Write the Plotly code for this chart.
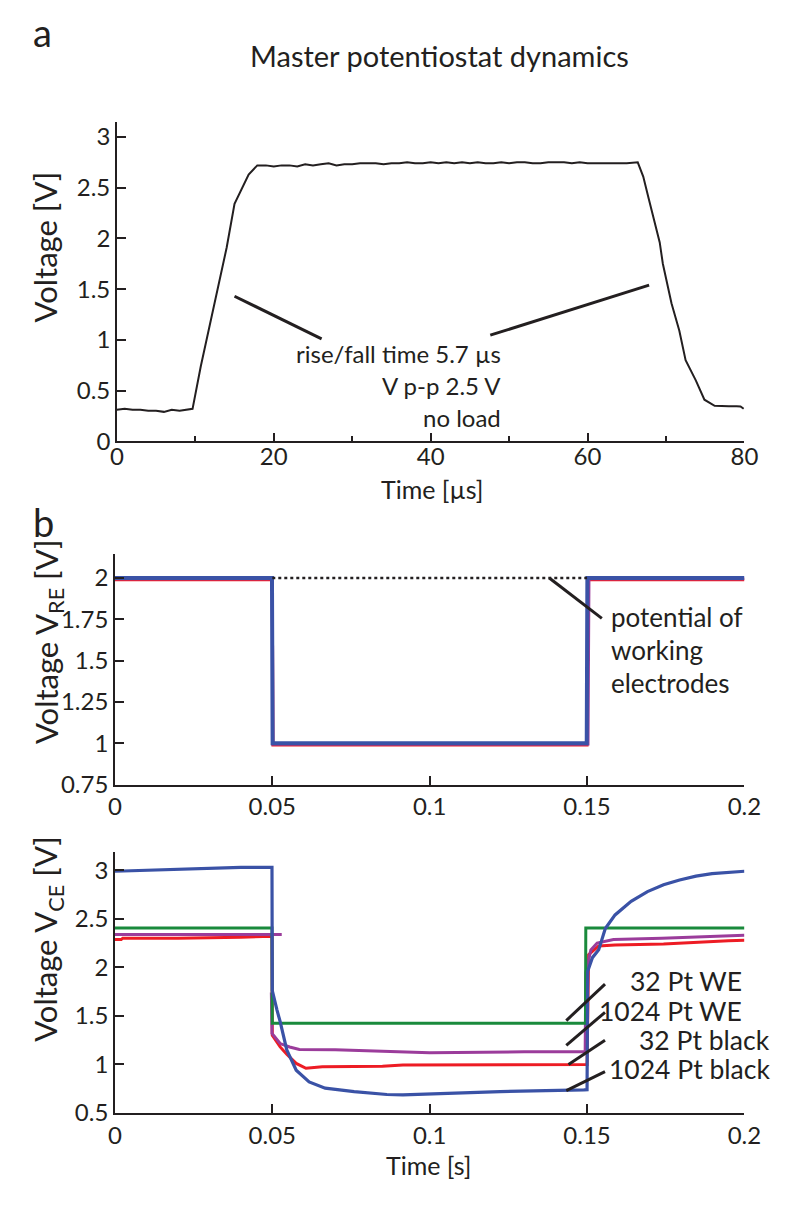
import plotly.graph_objects as go

# ---------------- data ----------------
# Panel a: master potentiostat step response (time in µs, voltage in V)
a_time = [0, 1, 2, 3, 4, 5, 6, 7, 8, 9, 9.65, 10.7, 11.5, 12.5, 13.3, 14.0, 15.0, 15.8,
          16.8, 17.9, 19, 20, 21, 22, 23, 24, 25, 26, 27, 28, 29, 30, 31, 32, 33, 34, 35,
          36, 37, 38, 39, 40, 41, 42, 43, 44, 45, 46, 47, 48, 49, 50, 51, 52, 53, 54, 55,
          56, 57, 58, 59, 60, 61, 62, 63, 64, 65, 66.4, 67.1, 67.8, 68.4, 69.2, 69.6,
          70.7, 71.7, 72.5, 73.8, 74.9, 76.2, 77, 78, 79, 79.5, 79.9]
a_volt = [0.31, 0.32, 0.31, 0.31, 0.30, 0.30, 0.29, 0.31, 0.30, 0.31, 0.32, 0.74, 1.02, 1.36,
          1.66, 1.91, 2.34, 2.47, 2.63, 2.72, 2.72, 2.71, 2.72, 2.72, 2.71, 2.73, 2.72, 2.73,
          2.74, 2.72, 2.73, 2.73, 2.74, 2.74, 2.74, 2.73, 2.74, 2.74, 2.75, 2.74, 2.74, 2.75,
          2.74, 2.75, 2.74, 2.75, 2.74, 2.75, 2.74, 2.74, 2.75, 2.74, 2.75, 2.75, 2.74, 2.74,
          2.75, 2.75, 2.75, 2.74, 2.75, 2.74, 2.74, 2.74, 2.74, 2.74, 2.74, 2.75, 2.61, 2.39,
          2.21, 1.96, 1.75, 1.36, 1.09, 0.80, 0.60, 0.41, 0.35, 0.345, 0.345, 0.345, 0.343, 0.32]

# Panel b (top): reference electrode potential V_RE (time in s)
re_time_blue = [0, 0.0499, 0.0501, 0.1499, 0.1501, 0.2]
re_blue = [2.0, 2.0, 1.0, 1.0, 2.0, 2.0]
re_time_red = [0, 0.0500, 0.0502, 0.1500, 0.1502, 0.2]
re_red = [1.99, 1.99, 0.99, 0.99, 1.99, 1.99]
re_time_purple = [0, 0.0500, 0.0502, 0.1503, 0.1506, 0.2]
re_purple = [1.995, 1.995, 0.995, 0.995, 1.995, 1.995]
we_time = [0.05, 0.15]
we_potential = [2.0, 2.0]

# Panel b (bottom): counter electrode potential V_CE
ce_time_blue = [0, 0.01, 0.02, 0.03, 0.04, 0.0499, 0.0500, 0.0515, 0.0525, 0.0546, 0.0576,
                0.0617, 0.0668, 0.076, 0.0864, 0.0915, 0.1018, 0.1224, 0.149, 0.1500, 0.1502,
                0.1517, 0.1537, 0.1558, 0.1589, 0.164, 0.1692, 0.1743, 0.1794, 0.1846,
                0.1897, 0.1949, 0.2]
ce_blue = [2.99, 3.0, 3.01, 3.02, 3.03, 3.03, 1.76, 1.56, 1.44, 1.15, 0.94, 0.82, 0.755,
           0.72, 0.69, 0.687, 0.70, 0.72, 0.738, 0.74, 1.96, 2.10, 2.18, 2.40, 2.54, 2.68,
           2.78, 2.85, 2.90, 2.94, 2.966, 2.976, 2.99]
ce_time_red = [0, 0.002, 0.0025, 0.02, 0.04, 0.0499, 0.0500, 0.0504, 0.0525, 0.0546, 0.0576,
               0.0607, 0.0659, 0.0761, 0.085, 0.0915, 0.11, 0.125, 0.1495, 0.1500, 0.1505,
               0.152, 0.1537, 0.1589, 0.1743, 0.1949, 0.2]
ce_red = [2.286, 2.286, 2.30, 2.30, 2.31, 2.32, 1.30, 1.28, 1.18, 1.105, 1.01, 0.96, 0.976,
          0.978, 0.98, 0.993, 0.993, 1.0, 1.0, 1.0, 2.13, 2.17, 2.22, 2.23, 2.24, 2.275, 2.28]
ce_time_purple = [0, 0.053, None, 0.0497, 0.0499, 0.0525, 0.0555, 0.0586, 0.07, 0.09, 0.1,
                  0.13, 0.1494, 0.1496, 0.1512, 0.1532, 0.1584, 0.1738, 0.1943, 0.2]
ce_purple = [2.337, 2.337, None, 1.74, 1.32, 1.215, 1.18, 1.153, 1.15, 1.13, 1.12, 1.13,
             1.13, 1.946, 2.18, 2.25, 2.286, 2.30, 2.326, 2.33]
ce_time_green = [0, 0.0499, 0.0500, 0.1495, 0.1496, 0.2]
ce_green = [2.405, 2.405, 1.425, 1.425, 2.405, 2.405]

series_names = ["32 Pt WE", "1024 Pt WE", "32 Pt black", "1024 Pt black"]

a_yticks = [0, 0.5, 1, 1.5, 2, 2.5, 3]
a_yticktext = ["0", "0.5", "1", "1.5", "2", "2.5", "3"]
re_yticks = [0.75, 1, 1.25, 1.5, 1.75, 2]
re_yticktext = ["0.75", "1", "1.25", "1.5", "1.75", "2"]
ce_yticks = [0.5, 1, 1.5, 2, 2.5, 3]
ce_yticktext = ["0.5", "1", "1.5", "2", "2.5", "3"]
b_xticks = [0, 0.05, 0.1, 0.15, 0.2]
b_xticktext = ["0", "0.05", "0.1", "0.15", "0.2"]

# ---------------- styling ----------------
W, H = 800, 1206
FONT = "Lato"
INK = "#231f20"
BLUE = "#3a52a6"
RED = "#ed1c24"
PURPLE = "#9b3c9b"
GREEN = "#1a8a3c"
TICK_SIZE = 24


def X(px):
    return px / W


def Y(py):
    return 1 - py / H


fig = go.Figure()

# Panel a
fig.add_trace(go.Scatter(x=a_time, y=a_volt, mode="lines", line=dict(color=INK, width=2),
                         xaxis="x", yaxis="y", showlegend=False))

# Panel b top
fig.add_trace(go.Scatter(x=re_time_red, y=re_red, mode="lines", line=dict(color=RED, width=3),
                         xaxis="x2", yaxis="y2", showlegend=False))
fig.add_trace(go.Scatter(x=re_time_purple, y=re_purple, mode="lines",
                         line=dict(color=PURPLE, width=3), xaxis="x2", yaxis="y2", showlegend=False))
fig.add_trace(go.Scatter(x=re_time_blue, y=re_blue, mode="lines", line=dict(color=BLUE, width=4),
                         xaxis="x2", yaxis="y2", showlegend=False))
fig.add_trace(go.Scatter(x=we_time, y=we_potential, mode="lines",
                         line=dict(color=INK, width=2.5, dash="dot"), xaxis="x2", yaxis="y2",
                         showlegend=False))

# Panel b bottom
fig.add_trace(go.Scatter(x=ce_time_red, y=ce_red, mode="lines", line=dict(color=RED, width=3),
                         xaxis="x3", yaxis="y3", name=series_names[2], showlegend=False))
fig.add_trace(go.Scatter(x=ce_time_purple, y=ce_purple, mode="lines",
                         line=dict(color=PURPLE, width=3), xaxis="x3", yaxis="y3",
                         name=series_names[1], showlegend=False))
fig.add_trace(go.Scatter(x=ce_time_green, y=ce_green, mode="lines",
                         line=dict(color=GREEN, width=3), xaxis="x3", yaxis="y3",
                         name=series_names[0], showlegend=False))
fig.add_trace(go.Scatter(x=ce_time_blue, y=ce_blue, mode="lines", line=dict(color=BLUE, width=3.2),
                         xaxis="x3", yaxis="y3", name=series_names[3], showlegend=False))

axis_common = dict(showline=True, linecolor=INK, linewidth=1.5, ticks="inside", ticklen=9,
                   tickwidth=1.5, tickcolor=INK, showgrid=False, zeroline=False,
                   tickfont=dict(family=FONT, size=TICK_SIZE, color=INK), mirror=False)

fig.update_layout(
    width=W, height=H, margin=dict(l=0, r=0, t=0, b=0),
    paper_bgcolor="white", plot_bgcolor="white",
    font=dict(family=FONT, color=INK),
    xaxis=dict(axis_common, domain=[X(105), X(752)], range=[0, 80], anchor="y",
               tickmode="linear", tick0=0, dtick=20, ticklabelstandoff=-7,
               minor=dict(dtick=10, tick0=0, ticklen=6, ticks="inside", tickwidth=1.5,
                          tickcolor=INK)),
    yaxis=dict(axis_common, domain=[Y(438), Y(115)], range=[0, 3.15], anchor="x",
               tickmode="array", tickvals=a_yticks, ticktext=a_yticktext),
    xaxis2=dict(axis_common, domain=[X(103), X(752)], range=[0, 0.2], anchor="y2",
                tickmode="array", tickvals=b_xticks, ticktext=b_xticktext),
    yaxis2=dict(axis_common, domain=[Y(785), Y(552)], range=[0.75, 2.145], anchor="x2",
                tickmode="array", tickvals=re_yticks, ticktext=re_yticktext),
    xaxis3=dict(axis_common, domain=[X(103), X(752)], range=[0, 0.2], anchor="y3",
                tickmode="array", tickvals=b_xticks, ticktext=b_xticktext),
    yaxis3=dict(axis_common, domain=[Y(1117), Y(853)], range=[0.5, 3.19], anchor="x3",
                tickmode="array", tickvals=ce_yticks, ticktext=ce_yticktext),
)

ann = []


def txt(text, x, y, size=22, xref="paper", yref="paper", xanchor="center", yanchor="middle",
        angle=0):
    ann.append(dict(text=text, x=x, y=y, xref=xref, yref=yref, xanchor=xanchor,
                    yanchor=yanchor, showarrow=False, textangle=angle,
                    font=dict(family=FONT, size=size, color=INK)))


# Panel letters and titles
txt("a", X(28), Y(24), size=38)
txt("b", X(29), Y(520), size=38)
txt("Master potentiostat dynamics", X(438), Y(48), size=29)
txt("Voltage [V]", X(31), Y(242), size=31, angle=-90)
txt("Voltage V<sub>RE</sub> [V]", X(34), Y(640), size=31, angle=-90)
txt("Voltage V<sub>CE</sub> [V]", X(34), Y(941), size=31, angle=-90)
txt("Time [µs]", X(430), Y(486), size=25)
txt("Time [s]", X(426), Y(1170), size=25)

# Panel a notes
NOTE = 24
txt("rise/fall time 5.7 µs", 49.2, 0.87, size=NOTE, xref="x", yref="y", xanchor="right")
txt("V p-p 2.5 V", 49.2, 0.55, size=NOTE, xref="x", yref="y", xanchor="right")
txt("no load", 49.2, 0.235, size=NOTE, xref="x", yref="y", xanchor="right")

# Panel b top note
txt("potential of", 0.157, 1.766, size=26, xref="x2", yref="y2", xanchor="left")
txt("working", 0.157, 1.567, size=26, xref="x2", yref="y2", xanchor="left")
txt("electrodes", 0.157, 1.367, size=26, xref="x2", yref="y2", xanchor="left")

# Panel b bottom labels (right edges given in page pixels)
LAB = 26.5
txt(series_names[0], X(752), 1.861, size=LAB, yref="y3", xanchor="right")
txt(series_names[1], X(752), 1.554, size=LAB, yref="y3", xanchor="right")
txt(series_names[2], X(780), 1.255, size=LAB, yref="y3", xanchor="right")
txt(series_names[3], X(780), 0.952, size=LAB, yref="y3", xanchor="right")

fig.update_layout(annotations=ann)

# Leader lines
shapes = []


def seg(x0, y0, x1, y1, xref, yref):
    shapes.append(dict(type="line", x0=x0, y0=y0, x1=x1, y1=y1, xref=xref, yref=yref,
                       line=dict(color=INK, width=3)))


seg(15.0, 1.43, 26.1, 1.01, "x", "y")
seg(47.6, 1.046, 67.85, 1.54, "x", "y")
seg(0.138, 2.0, 0.1547, 1.756, "x2", "y2")
seg(0.1434, 1.452, 0.1557, 1.827, "x3", "y3")
seg(0.1434, 1.197, 0.1557, 1.537, "x3", "y3")
seg(0.1441, 1.0, 0.1557, 1.248, "x3", "y3")
seg(0.1434, 0.731, 0.1557, 0.925, "x3", "y3")
fig.update_layout(shapes=shapes)

fig.write_html("out.html")
